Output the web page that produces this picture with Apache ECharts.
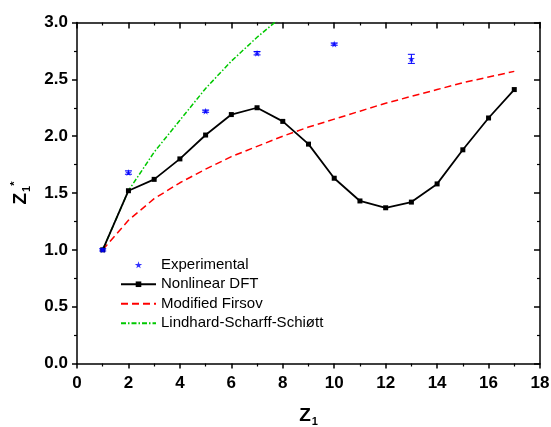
<!DOCTYPE html>
<html>
<head>
<meta charset="utf-8">
<script src="https://cdn.jsdelivr.net/npm/echarts@6/dist/echarts.min.js"></script>
<style>html,body{margin:0;padding:0;background:#fff}#c{width:551px;height:427px}</style>
</head>
<body>
<div id="c"></div>
<script>
// Data
const z1 = [1, 2, 3, 4, 5, 6, 7, 8, 9, 10, 11, 12, 13, 14, 15, 16, 17];
const dftValues = [1.00, 1.52, 1.62, 1.80, 2.01, 2.19, 2.25, 2.13, 1.93, 1.63, 1.43, 1.37, 1.42, 1.58, 1.88, 2.16, 2.41];
const firsovValues = [1.00, 1.26, 1.45, 1.59, 1.71, 1.82, 1.91, 2.00, 2.08, 2.15, 2.22, 2.29, 2.35, 2.41, 2.47, 2.52, 2.57];
const lssZ = [1, 2, 3, 4, 5, 6, 7, 8];
const lssValues = [1.00, 1.52, 1.86, 2.14, 2.42, 2.66, 2.87, 3.06];
const expZ = [1, 2, 5, 7, 10, 13];
const expValues = [1.00, 1.68, 2.22, 2.73, 2.81, 2.68];
const expErrors = [0.01, 0.015, 0.01, 0.015, 0.01, 0.04];
const xTicks = [0, 2, 4, 6, 8, 10, 12, 14, 16, 18];
const yTicks = [0.0, 0.5, 1.0, 1.5, 2.0, 2.5, 3.0];

const pairs = (xs, ys) => xs.map((x, i) => [x, ys[i]]);
const starPath = 'path://M50,0 L61,35 L98,35 L68,57 L79,91 L50,70 L21,91 L32,57 L2,35 L39,35 Z';
const FONT = '"Liberation Sans", Arial, sans-serif';

const chart = echarts.init(document.getElementById('c'));
const axisLine = { show: true, onZero: false, lineStyle: { color: '#000', width: 1.5 } };

chart.setOption({
  animation: false,
  grid: { left: 77, right: 11, top: 22.5, bottom: 63.5, containLabel: false, outerBoundsMode: 'none' },
  legend: {
    orient: 'vertical', left: 115, top: 251,
    itemWidth: 35, itemHeight: 7, itemGap: 2,
    textStyle: { fontFamily: FONT, fontSize: 15, color: '#000', lineHeight: 17.5 },
    data: [
      { name: 'Experimental' },
      { name: 'Nonlinear DFT' },
      { name: 'Modified Firsov', itemStyle: { opacity: 0 } },
      { name: 'Lindhard-Scharff-Schiøtt', itemStyle: { opacity: 0 } }
    ]
  },
  xAxis: [{
    type: 'value', min: xTicks[0], max: xTicks[xTicks.length - 1], interval: 2,
    position: 'bottom',
    axisLine: axisLine,
    axisTick: { show: true, inside: false, length: 5, lineStyle: { color: '#000', width: 1.5 } },
    minorTick: { show: true, splitNumber: 2, length: 3, lineStyle: { color: '#000', width: 1.2 } },
    splitLine: { show: false },
    axisLabel: { fontFamily: FONT, fontSize: 17, fontWeight: 'bold', color: '#000', margin: 11 },
    name: '{z|Z}{s|1}', nameLocation: 'middle', nameGap: 41,
    nameTextStyle: {
      rich: {
        z: { fontFamily: FONT, fontSize: 19, fontWeight: 'bold', color: '#000' },
        s: { fontFamily: FONT, fontSize: 11, fontWeight: 'bold', color: '#000', padding: [12, 0, 0, 1] }
      }
    }
  }, {
    type: 'value', min: xTicks[0], max: xTicks[xTicks.length - 1], interval: 2,
    position: 'top',
    axisLine: axisLine,
    axisTick: { show: true, inside: true, length: 6, lineStyle: { color: '#000', width: 1.5 } },
    minorTick: { show: true, splitNumber: 2, length: 3, lineStyle: { color: '#000', width: 1.2 } },
    splitLine: { show: false },
    axisLabel: { show: false }
  }],
  yAxis: [{
    type: 'value', min: yTicks[0], max: yTicks[yTicks.length - 1], interval: 0.5,
    position: 'left',
    axisLine: axisLine,
    axisTick: { show: true, inside: false, length: 5, lineStyle: { color: '#000', width: 1.5 } },
    minorTick: { show: true, splitNumber: 2, length: 3, lineStyle: { color: '#000', width: 1.2 } },
    splitLine: { show: false },
    axisLabel: { fontFamily: FONT, fontSize: 17, fontWeight: 'bold', color: '#000', margin: 9,
      formatter: v => v.toFixed(1) },
    name: '{z|Z}{s|1}{p|*}', nameLocation: 'middle', nameRotate: 90, nameGap: 45,
    nameTextStyle: {
      rich: {
        z: { fontFamily: FONT, fontSize: 19, fontWeight: 'bold', color: '#000' },
        s: { fontFamily: FONT, fontSize: 11, fontWeight: 'bold', color: '#000', padding: [12, 0, 0, 1] },
        p: { fontFamily: FONT, fontSize: 11, fontWeight: 'bold', color: '#000', padding: [0, 0, 12, 0] }
      }
    }
  }, {
    type: 'value', min: yTicks[0], max: yTicks[yTicks.length - 1], interval: 0.5,
    position: 'right',
    axisLine: axisLine,
    axisTick: { show: true, inside: true, length: 6, lineStyle: { color: '#000', width: 1.5 } },
    minorTick: { show: true, splitNumber: 2, length: 3, lineStyle: { color: '#000', width: 1.2 } },
    splitLine: { show: false },
    axisLabel: { show: false }
  }],
  series: [
    {
      name: 'Modified Firsov', type: 'line', data: pairs(z1, firsovValues),
      showSymbol: false, symbol: 'none', clip: true,
      lineStyle: { color: '#ff0000', width: 1.5, type: [7, 4] },
      itemStyle: { color: '#ff0000' }, z: 2
    },
    {
      name: 'Lindhard-Scharff-Schiøtt', type: 'line', data: pairs(lssZ, lssValues),
      showSymbol: false, symbol: 'none', clip: true,
      lineStyle: { color: '#00c800', width: 1.5, type: [5, 2, 1.5, 2] },
      itemStyle: { color: '#00c800' }, z: 2
    },
    {
      name: 'Nonlinear DFT', type: 'line', data: pairs(z1, dftValues),
      symbol: 'rect', symbolSize: 5,
      lineStyle: { color: '#000', width: 1.8 },
      itemStyle: { color: '#000' }, z: 3
    },
    {
      name: 'Experimental', type: 'scatter', data: pairs(expZ, expValues),
      symbol: starPath, symbolSize: 7,
      itemStyle: { color: '#0000ff' }, z: 4
    },
    {
      name: 'Experimental', type: 'custom',
      data: expZ.map((x, i) => [x, expValues[i], expErrors[i]]),
      renderItem: (params, api) => {
        const x = api.value(0), y = api.value(1), e = api.value(2);
        const top = api.coord([x, y + e]);
        const bot = api.coord([x, y - e]);
        const hw = 3.5;
        const st = { stroke: '#0000ff', lineWidth: 1 };
        return {
          type: 'group',
          children: [
            { type: 'line', shape: { x1: top[0], y1: top[1], x2: bot[0], y2: bot[1] }, style: st },
            { type: 'line', shape: { x1: top[0] - hw, y1: top[1], x2: top[0] + hw, y2: top[1] }, style: st },
            { type: 'line', shape: { x1: bot[0] - hw, y1: bot[1], x2: bot[0] + hw, y2: bot[1] }, style: st }
          ]
        };
      },
      itemStyle: { color: '#0000ff' }, z: 4, silent: true
    }
  ]
});
</script>
</body>
</html>
